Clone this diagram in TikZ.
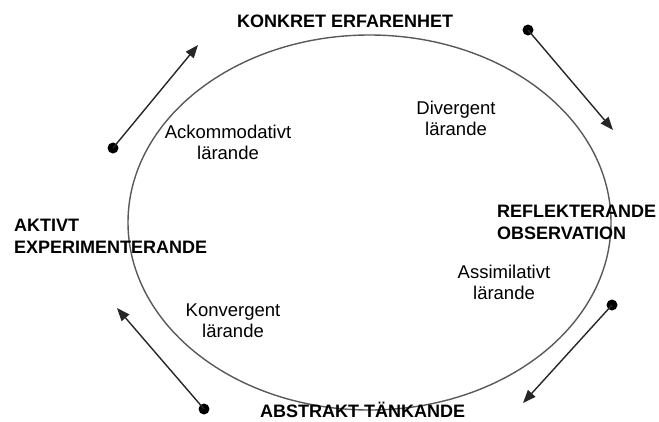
\documentclass[tikz,border=0pt]{standalone}
\usepackage{fontspec}
\setmainfont{Liberation Sans}
\usepackage{tikz}
\usetikzlibrary{arrows.meta}
\tikzstyle{arrow} = [line width=1.4pt,draw=black!85,-{Triangle[length=13pt,width=10pt]}]
\tikzstyle{dot} = [circle,fill=black,inner sep=0pt,minimum size=11pt]
\tikzstyle{phase} = [font=\fontsize{18}{22}\selectfont\bfseries,align=left,anchor=west,inner sep=0pt]
\tikzstyle{learnstyle} = [font=\fontsize{18.5}{21}\selectfont,align=center,inner sep=0pt]

\begin{document}
\begin{tikzpicture}[x=1pt,y=-1pt]
			\useasboundingbox (0,0) rectangle (659,421);
			
			% Cycle:
			\draw [line width=1.4pt, black!65] (369.5,222.5) ellipse [x radius=241.5, y radius=187.5];
			
			% Phases:
			\node [phase] (konkret) at (237,21.5) {KONKRET ERFARENHET};
			\node [phase] (reflekt) at (497,222.5) {REFLEKTERANDE\\OBSERVATION};
			\node [phase] (abstrakt) at (260,409.5) {ABSTRAKT TÄNKANDE};
			\node [phase] (aktivt) at (14,236.5) {AKTIVT\\EXPERIMENTERANDE};
			
			% Learning styles:
			\node [learnstyle] (ackom) at (228,142.5) {Ackommodativt\\lärande};
			\node [learnstyle] (diverg) at (456,118) {Divergent\\lärande};
			\node [learnstyle] (assim) at (504,282.5) {Assimilativt\\lärande};
			\node [learnstyle] (konverg) at (233,321) {Konvergent\\lärande};
			
			% Arrows:
			% Start at a dot and end at a plain coordinate
			\node [dot] (d1) at (113,148) {};
			\coordinate (t1) at (198,45);
			\node [dot] (d2) at (528,30) {};
			\coordinate (t2) at (613,130);
			\node [dot] (d3) at (612,305) {};
			\coordinate (t3) at (523,403);
			\node [dot] (d4) at (204,409) {};
			\coordinate (t4) at (117,308);
			
			\draw [arrow] (d1.center) -- (t1);
			\draw [arrow] (d2.center) -- (t2);
			\draw [arrow] (d3.center) -- (t3);
			\draw [arrow] (d4.center) -- (t4);
			
\end{tikzpicture}
\end{document}
